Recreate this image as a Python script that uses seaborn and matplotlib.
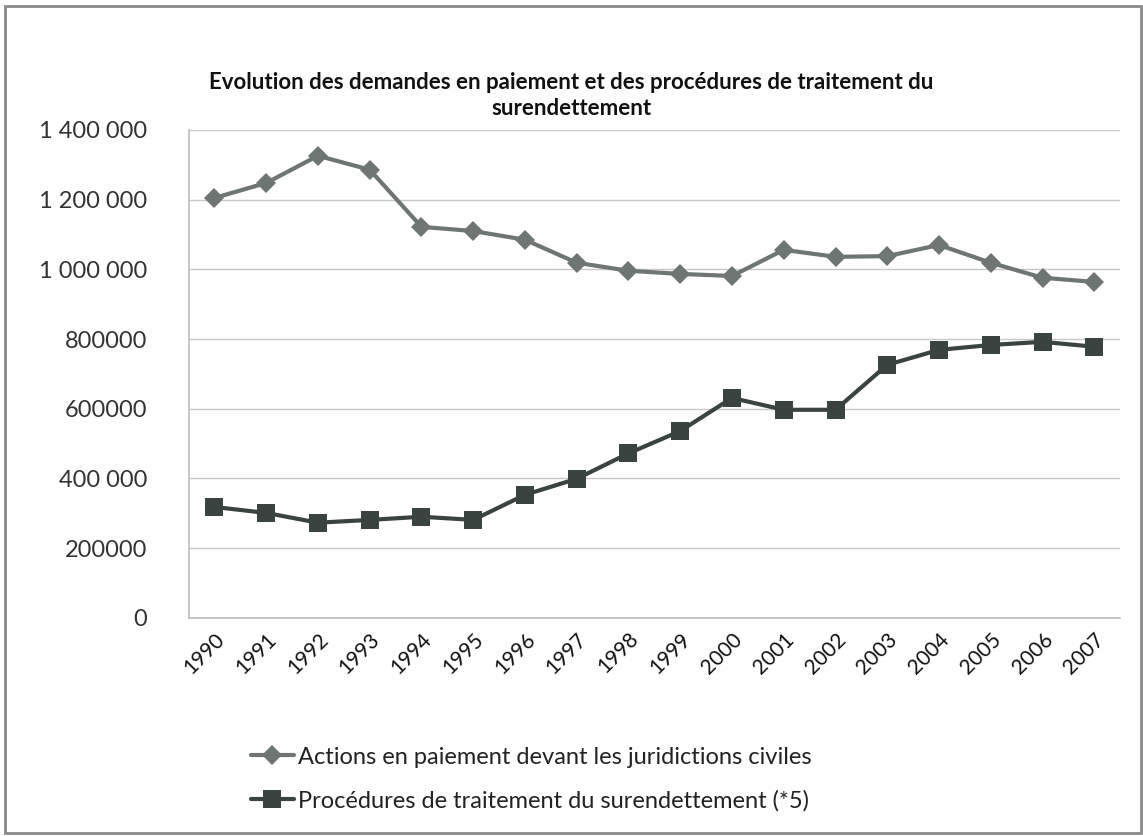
import matplotlib
matplotlib.use("Agg")
import matplotlib.pyplot as plt
import seaborn as sns
import pandas as pd
from matplotlib.patches import Rectangle

# Data
years = list(range(1990, 2008))
actions = [1205000, 1248000, 1326000, 1286000, 1122000, 1110000, 1085000, 1019000, 996000,
           987000, 981000, 1056000, 1036000, 1038000, 1070000, 1019000, 976000, 964000]
procedures = [318000, 301000, 273000, 281000, 290000, 281000, 353000, 399000, 472000,
              536000, 631000, 597000, 597000, 726000, 769000, 783000, 792000, 778000]
ytick_vals = [0, 200000, 400000, 600000, 800000, 1000000, 1200000, 1400000]
ytick_labels = ["0", "200000", "400 000", "600000", "800000", "1 000 000", "1 200 000", "1 400 000"]
label_actions = "Actions en paiement devant les juridictions civiles"
label_proc = "Procédures de traitement du surendettement (*5)"
title = "Evolution des demandes en paiement et des procédures de traitement du\nsurendettement"

sns.set_theme(style="white")
plt.rcParams['font.family'] = ['Lato', 'DejaVu Sans']

fig = plt.figure(figsize=(11.43, 8.36), dpi=100)
ax = fig.add_axes([0.165, 0.261, 0.815, 0.5835])

sns.lineplot(x=years, y=actions, ax=ax, color="#6f7573", marker="D", markersize=10,
             markeredgewidth=0, linewidth=3, label=label_actions)
sns.lineplot(x=years, y=procedures, ax=ax, color="#3b4341", marker="s", markersize=13,
             markeredgewidth=0, linewidth=3, label=label_proc)

ax.set_xlim(1989.5, 2007.5)
ax.set_ylim(0, 1400000)
ax.set_yticks(ytick_vals)
ax.set_yticklabels(ytick_labels, fontsize=17, color="#333333")
ax.set_xticks(years)
ax.set_xticklabels([str(y) for y in years], rotation=45, ha="right", rotation_mode="anchor",
                   fontsize=15, color="#111111")
ax.tick_params(axis="y", pad=30, length=0)
ax.tick_params(axis="x", pad=8, length=0)
ax.yaxis.grid(True, color="#c8c8c8", linewidth=1)
for side in ["top", "right"]:
    ax.spines[side].set_visible(False)
for side in ["left", "bottom"]:
    ax.spines[side].set_color("#bdbdbd")
    ax.spines[side].set_linewidth(1.2)

handles, labels = ax.get_legend_handles_labels()
ax.get_legend().remove()
fig.legend(handles, labels, loc="center", bbox_to_anchor=(0.465, 0.068), ncol=1, frameon=False,
           fontsize=17, handlelength=1.8, labelspacing=0.95, handletextpad=0.2,
           labelcolor="#222222")

fig.text(0.5, 0.886, title, ha="center", va="center", fontsize=16, fontweight="bold",
         linespacing=1.3, color="#111111")

fig.patches.append(Rectangle((0.004, 0.003), 0.994, 0.99, transform=fig.transFigure,
                             fill=False, edgecolor="#8a8a8a", linewidth=2))

fig.savefig("out.png", dpi=100)
